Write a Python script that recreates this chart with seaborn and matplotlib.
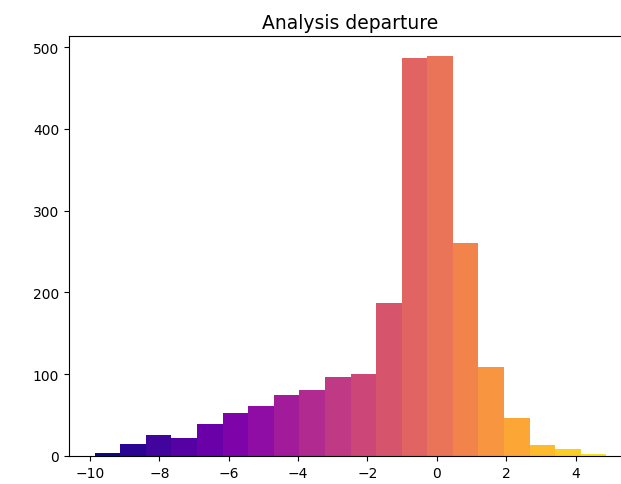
import numpy as np
import pandas as pd
import matplotlib
matplotlib.use("Agg")
import matplotlib.pyplot as plt
import seaborn as sns

# Data
bin_start = -9.87
bin_width = 0.738
counts = [4, 15, 26, 22, 39, 53, 61, 75, 81, 97, 100, 187, 486, 489, 260, 109, 47, 14, 8, 2]
title = "Analysis departure"

edges = bin_start + bin_width * np.arange(len(counts) + 1)
centers = 0.5 * (edges[:-1] + edges[1:])
df = pd.DataFrame({"departure": centers, "count": counts})

fig = plt.figure(figsize=(6.21, 4.85), dpi=100)
ax = fig.add_axes([69 / 621, 1 - 457 / 485, (632 - 69) / 621, (457 - 37) / 485])

sns.histplot(data=df, x="departure", weights="count",
             binwidth=bin_width, binrange=(edges[0], edges[-1]), ax=ax,
             stat="count", linewidth=0, alpha=1.0, element="bars")

cmap = plt.get_cmap("plasma")
col = np.arange(len(counts)) / len(counts)
for c, p in zip(col, ax.patches):
    p.set_facecolor(cmap(c))
    p.set_edgecolor("none")

ax.set_xlabel("")
ax.set_ylabel("")
ax.set_title(title, fontsize=13.5)
ax.set_ylim(0, max(counts) * 1.05)
span = edges[-1] - edges[0]
ax.set_xlim(edges[0] - 0.05 * span, edges[-1] + 0.05 * span)
ax.set_xticks([-10, -8, -6, -4, -2, 0, 2, 4])
ax.set_yticks([0, 100, 200, 300, 400, 500])

fig.savefig("out.png", dpi=100)
